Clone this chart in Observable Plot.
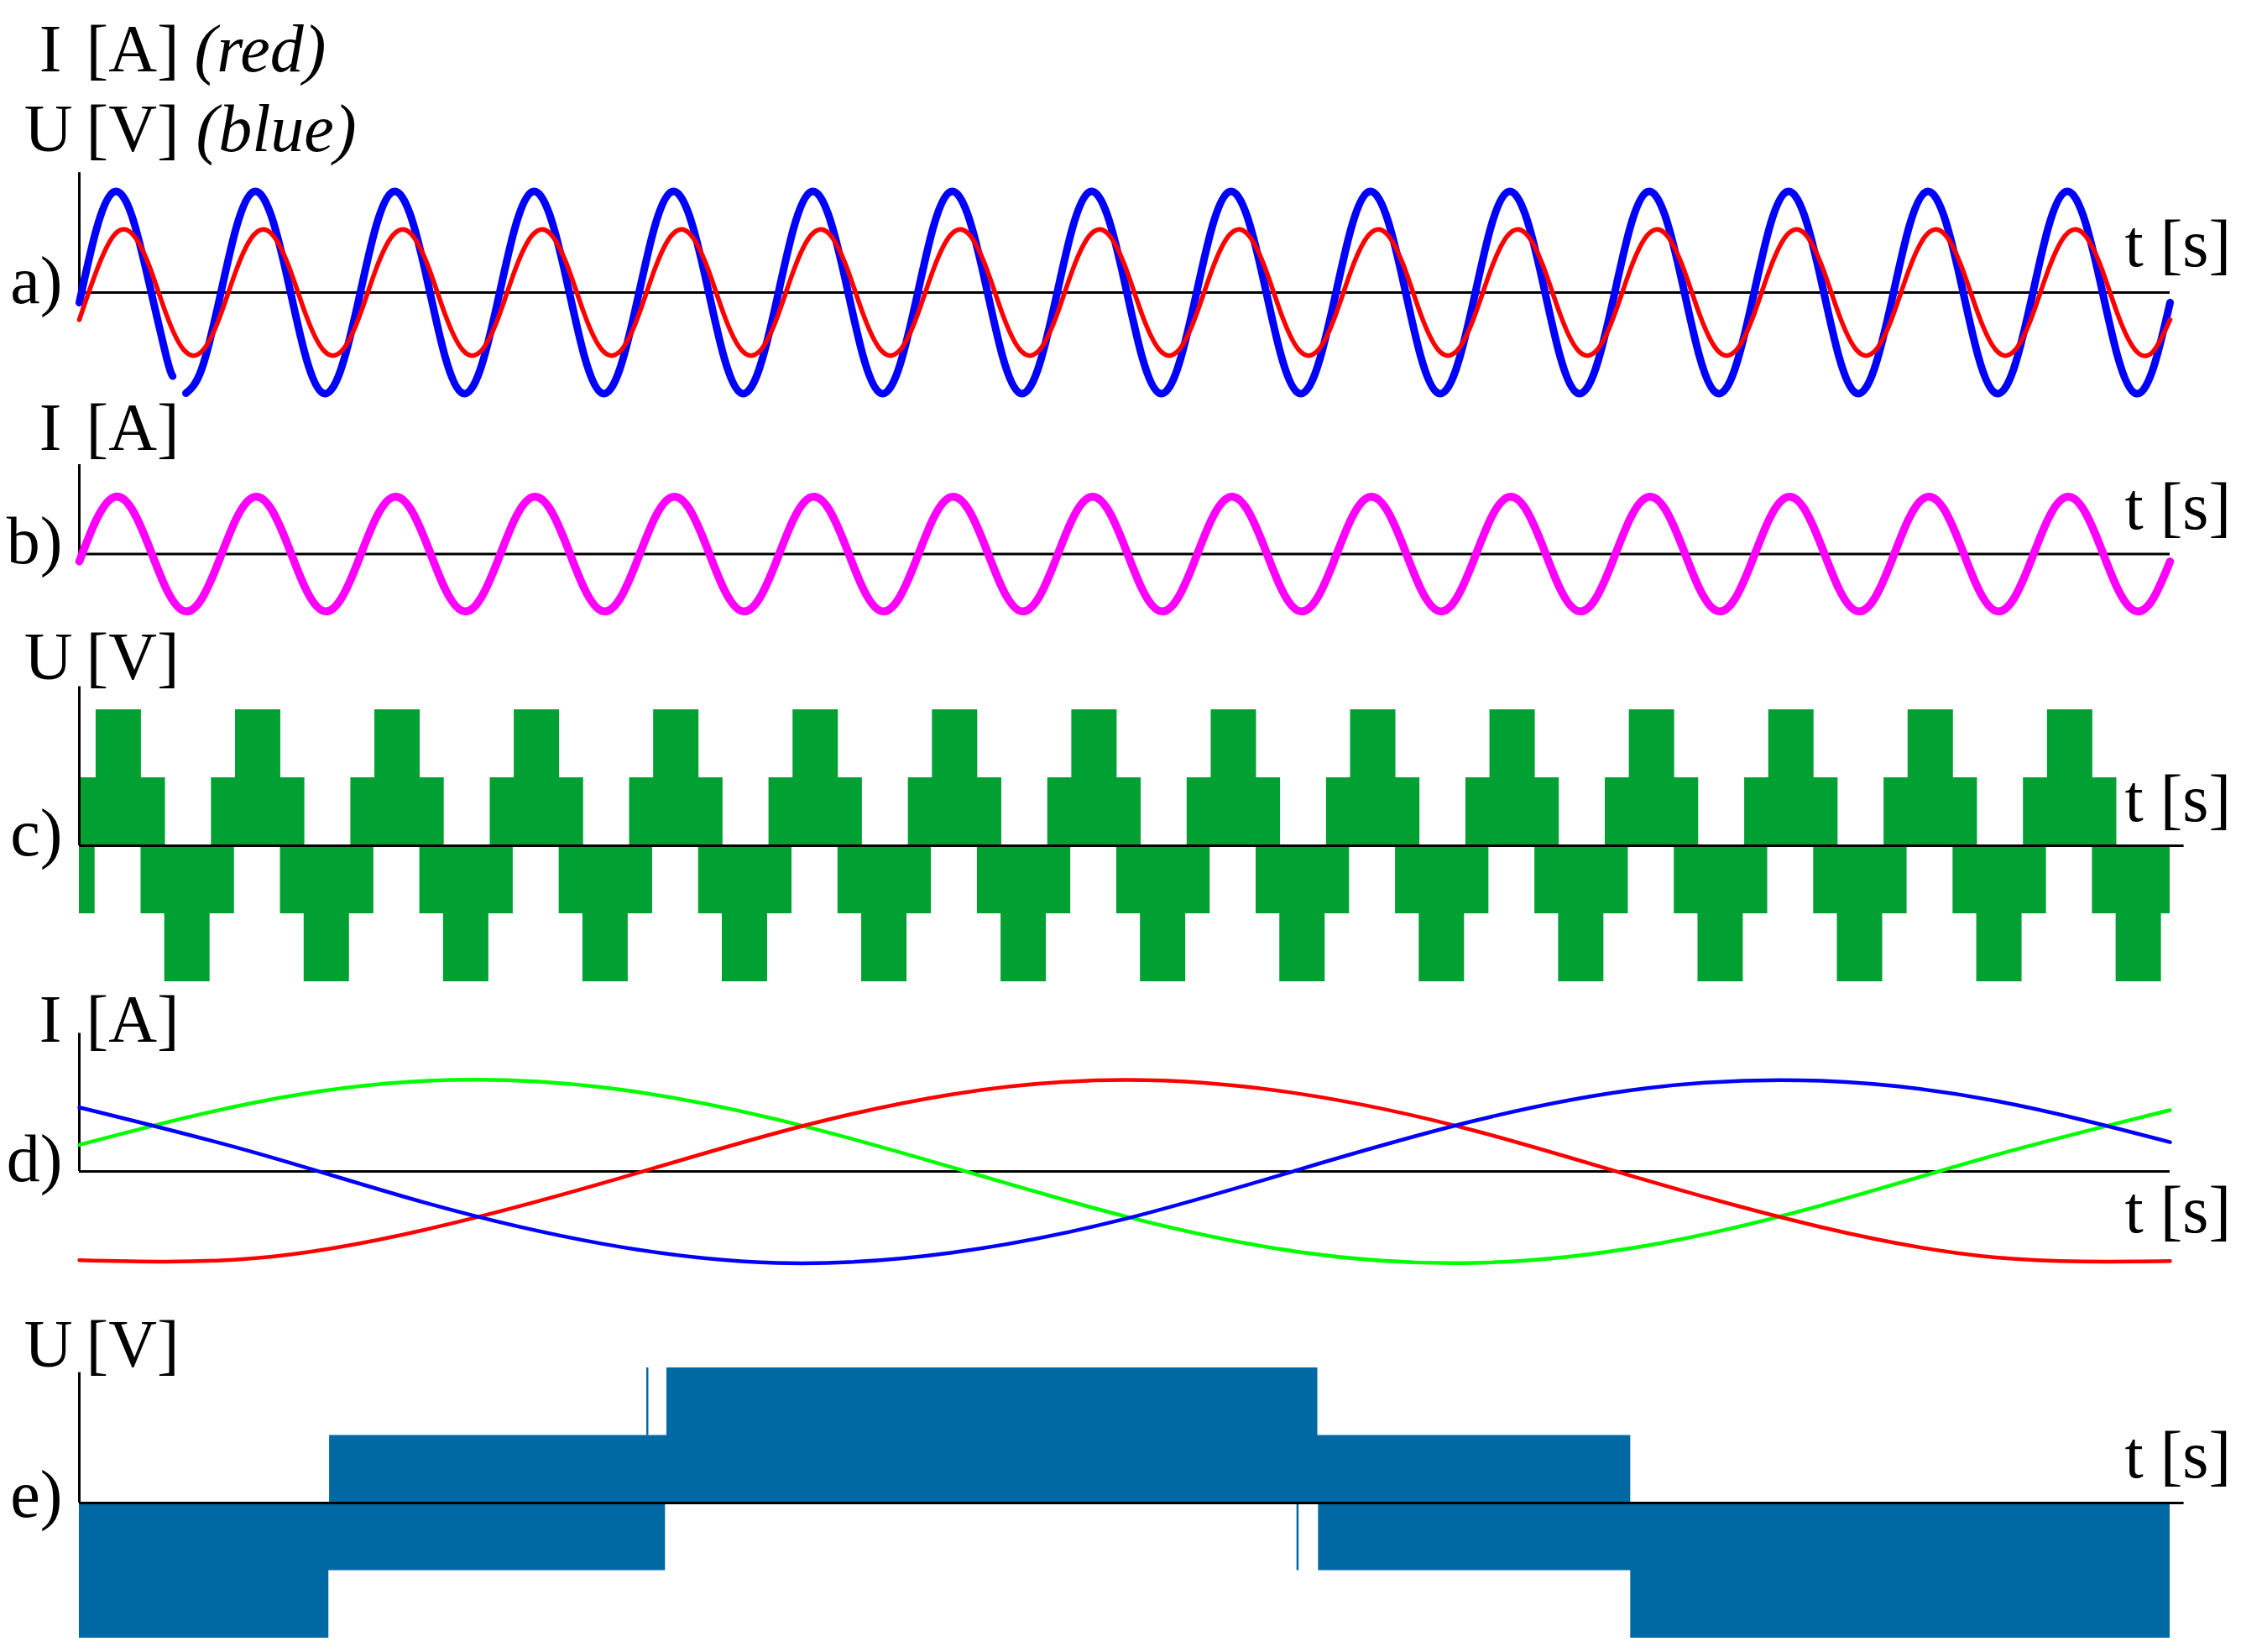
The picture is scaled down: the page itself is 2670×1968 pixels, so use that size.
<!DOCTYPE html>
<html><head><meta charset="utf-8">
<script src="https://cdn.jsdelivr.net/npm/d3@7"></script>
<script src="https://cdn.jsdelivr.net/npm/@observablehq/plot@0.6"></script>
<style>
html,body{margin:0;padding:0;background:#fff;overflow:hidden;}
#chart{position:relative;width:2670px;height:1968px;background:#fff;}
#chart svg{position:absolute;left:0;max-width:none;}
</style></head><body><div id="chart"></div>
<script>
// ---------- time grid of panels a) and b) (ms) ----------
const tA = [
  0,2.5,5,7.5,10,12.5,15,17.5,
  20,22.5,25,27.5,30,32.5,35,37.5,
  40,42.5,45,47.5,50,52.5,55,57.5,
  60,62.5,65,67.5,70,72.5,75,77.5,
  80,82.5,85,87.5,90,92.5,95,97.5,
  100,102.5,105,107.5,110,112.5,115,117.5,
  120,122.5,125,127.5,130,132.5,135,137.5,
  140,142.5,145,147.5,150,152.5,155,157.5,
  160,162.5,165,167.5,170,172.5,175,177.5,
  180,182.5,185,187.5,190,192.5,195,197.5,
  200,202.5,205,207.5,210,212.5,215,217.5,
  220,222.5,225,227.5,230,232.5,235,237.5,
  240,242.5,245,247.5,250,252.5,255,257.5,
  260,262.5,265,267.5,270,272.5,275,277.5,
  280,282.5,285,287.5,290,292.5,295,297.5,
  300];

// a) voltage (blue) – has a short recording gap near 14 ms
const blueT = [
  0,2.5,5,7.5,10,12.5,13.4,14.3,15.3,17.5,
  20,22.5,25,27.5,30,32.5,35,37.5,
  40,42.5,45,47.5,50,52.5,55,57.5,
  60,62.5,65,67.5,70,72.5,75,77.5,
  80,82.5,85,87.5,90,92.5,95,97.5,
  100,102.5,105,107.5,110,112.5,115,117.5,
  120,122.5,125,127.5,130,132.5,135,137.5,
  140,142.5,145,147.5,150,152.5,155,157.5,
  160,162.5,165,167.5,170,172.5,175,177.5,
  180,182.5,185,187.5,190,192.5,195,197.5,
  200,202.5,205,207.5,210,212.5,215,217.5,
  220,222.5,225,227.5,230,232.5,235,237.5,
  240,242.5,245,247.5,250,252.5,255,257.5,
  260,262.5,265,267.5,270,272.5,275,277.5,
  280,282.5,285,287.5,290,292.5,295,297.5,
  300];
const blueU = [
  -0.10,0.64,1.00,0.77,0.10,-0.64,-0.83,null,-1.00,-0.77,
  -0.10,0.64,1.00,0.77,0.10,-0.64,-1.00,-0.77,
  -0.10,0.64,1.00,0.77,0.10,-0.64,-1.00,-0.77,
  -0.10,0.64,1.00,0.77,0.10,-0.64,-1.00,-0.77,
  -0.10,0.64,1.00,0.77,0.10,-0.64,-1.00,-0.77,
  -0.10,0.64,1.00,0.77,0.10,-0.64,-1.00,-0.77,
  -0.10,0.64,1.00,0.77,0.10,-0.64,-1.00,-0.77,
  -0.10,0.64,1.00,0.77,0.10,-0.64,-1.00,-0.77,
  -0.10,0.64,1.00,0.77,0.10,-0.64,-1.00,-0.77,
  -0.10,0.64,1.00,0.77,0.10,-0.64,-1.00,-0.77,
  -0.10,0.64,1.00,0.77,0.10,-0.64,-1.00,-0.77,
  -0.10,0.64,1.00,0.77,0.10,-0.64,-1.00,-0.77,
  -0.10,0.64,1.00,0.77,0.10,-0.64,-1.00,-0.77,
  -0.10,0.64,1.00,0.77,0.10,-0.64,-1.00,-0.77,
  -0.10,0.64,1.00,0.77,0.10,-0.64,-1.00,-0.77,
  -0.10];

// a) current (red)
const redI = [
  -0.27,0.22,0.57,0.59,0.27,-0.22,-0.57,-0.59,
  -0.27,0.22,0.57,0.59,0.27,-0.22,-0.57,-0.59,
  -0.27,0.22,0.57,0.59,0.27,-0.22,-0.57,-0.59,
  -0.27,0.22,0.57,0.59,0.27,-0.22,-0.57,-0.59,
  -0.27,0.22,0.57,0.59,0.27,-0.22,-0.57,-0.59,
  -0.27,0.22,0.57,0.59,0.27,-0.22,-0.57,-0.59,
  -0.27,0.22,0.57,0.59,0.27,-0.22,-0.57,-0.59,
  -0.27,0.22,0.57,0.59,0.27,-0.22,-0.57,-0.59,
  -0.27,0.22,0.57,0.59,0.27,-0.22,-0.57,-0.59,
  -0.27,0.22,0.57,0.59,0.27,-0.22,-0.57,-0.59,
  -0.27,0.22,0.57,0.59,0.27,-0.22,-0.57,-0.59,
  -0.27,0.22,0.57,0.59,0.27,-0.22,-0.57,-0.59,
  -0.27,0.22,0.57,0.59,0.27,-0.22,-0.57,-0.59,
  -0.27,0.22,0.57,0.59,0.27,-0.22,-0.57,-0.59,
  -0.27,0.22,0.57,0.59,0.27,-0.22,-0.57,-0.59,
  -0.27];

// b) current (magenta)
const magentaI = [
  -0.13,0.61,0.99,0.79,0.13,-0.61,-0.99,-0.79,
  -0.13,0.61,0.99,0.79,0.13,-0.61,-0.99,-0.79,
  -0.13,0.61,0.99,0.79,0.13,-0.61,-0.99,-0.79,
  -0.13,0.61,0.99,0.79,0.13,-0.61,-0.99,-0.79,
  -0.13,0.61,0.99,0.79,0.13,-0.61,-0.99,-0.79,
  -0.13,0.61,0.99,0.79,0.13,-0.61,-0.99,-0.79,
  -0.13,0.61,0.99,0.79,0.13,-0.61,-0.99,-0.79,
  -0.13,0.61,0.99,0.79,0.13,-0.61,-0.99,-0.79,
  -0.13,0.61,0.99,0.79,0.13,-0.61,-0.99,-0.79,
  -0.13,0.61,0.99,0.79,0.13,-0.61,-0.99,-0.79,
  -0.13,0.61,0.99,0.79,0.13,-0.61,-0.99,-0.79,
  -0.13,0.61,0.99,0.79,0.13,-0.61,-0.99,-0.79,
  -0.13,0.61,0.99,0.79,0.13,-0.61,-0.99,-0.79,
  -0.13,0.61,0.99,0.79,0.13,-0.61,-0.99,-0.79,
  -0.13,0.61,0.99,0.79,0.13,-0.61,-0.99,-0.79,
  -0.13];

// c) multilevel voltage envelope: switching instants (ms) and levels
const greenPosT = [
  0,2.4,8.9,12.35,
  18.95,22.4,28.9,32.35, 38.95,42.4,48.9,52.35, 58.95,62.4,68.9,72.35,
  78.95,82.4,88.9,92.35, 98.95,102.4,108.9,112.35, 118.95,122.4,128.9,132.35,
  138.95,142.4,148.9,152.35, 158.95,162.4,168.9,172.35, 178.95,182.4,188.9,192.35,
  198.95,202.4,208.9,212.35, 218.95,222.4,228.9,232.35, 238.95,242.4,248.9,252.35,
  258.95,262.4,268.9,272.35, 278.95,282.4,288.9,292.35, 300];
const greenPosLevel = [
  1,2,1,0,
  1,2,1,0, 1,2,1,0, 1,2,1,0,
  1,2,1,0, 1,2,1,0, 1,2,1,0,
  1,2,1,0, 1,2,1,0, 1,2,1,0,
  1,2,1,0, 1,2,1,0, 1,2,1,0,
  1,2,1,0, 1,2,1,0, 0];
const greenNegT = [
  0,2.25,
  8.85,12.25,18.75,22.25, 28.85,32.25,38.75,42.25, 48.85,52.25,58.75,62.25,
  68.85,72.25,78.75,82.25, 88.85,92.25,98.75,102.25, 108.85,112.25,118.75,122.25,
  128.85,132.25,138.75,142.25, 148.85,152.25,158.75,162.25, 168.85,172.25,178.75,182.25,
  188.85,192.25,198.75,202.25, 208.85,212.25,218.75,222.25, 228.85,232.25,238.75,242.25,
  248.85,252.25,258.75,262.25, 268.85,272.25,278.75,282.25, 288.85,292.25,298.75, 300];
const greenNegLevel = [
  -1,0,
  -1,-2,-1,0, -1,-2,-1,0, -1,-2,-1,0,
  -1,-2,-1,0, -1,-2,-1,0, -1,-2,-1,0,
  -1,-2,-1,0, -1,-2,-1,0, -1,-2,-1,0,
  -1,-2,-1,0, -1,-2,-1,0, -1,-2,-1,0,
  -1,-2,-1,0, -1,-2,-1,0, -1,-2,-1, -1];

// d) three-phase currents
const tD = [0,25,50,75,100,125,150,175,200,225,250,275,300];
const dRed   = [-0.97,-0.95,-0.63,-0.13,0.42,0.84,1.00,0.85,0.45,-0.10,-0.61,-0.94,-0.98];
const dBlue  = [0.70,0.21,-0.35,-0.79,-1.00,-0.89,-0.52,0.02,0.55,0.91,0.99,0.77,0.32];
const dGreen = [0.29,0.75,0.99,0.92,0.57,0.05,-0.49,-0.88,-1.00,-0.81,-0.37,0.18,0.67];

// e) staircase voltage envelope
const ePosT = [0,35.9,84.3,177.7,222.6,300];
const ePosLevel = [0,1,2,1,0,0];
const eNegT = [0,35.8,84.1,177.8,222.6,300];
const eNegLevel = [-2,-1,0,-1,-2,-2];
const eSpikeT = [81.5,174.8];
const eSpikeFrom = [1,0];
const eSpikeTo = [2,-1];

// labels
const panelLetters = ["a)","b)","c)","d)","e)"];
const timeLabel = "t [s]";

// ---------- helpers ----------
const FONT = "Liberation Serif";
const pts = (T, V) => T.map((t, i) => ({t, v: V[i] == null ? NaN : V[i]}));
const label = (text, x, y, anchor = "start", italic = false) =>
  Plot.text([text], {frameAnchor: "top-left", dx: x, dy: y, text: d => d,
    textAnchor: anchor, lineAnchor: "bottom", fontSize: 80, fontFamily: FONT,
    fontStyle: italic ? "italic" : "normal", fill: "black"});

function panel(top, height, yDomain, yRange, marks) {
  const svg = Plot.plot({
    width: 2670, height,
    marginTop: 0, marginRight: 0, marginBottom: 0, marginLeft: 0,
    x: {domain: [0, 300], range: [94, 2585], axis: null},
    y: {domain: yDomain, range: yRange, axis: null},
    style: {background: "transparent", overflow: "visible"},
    marks
  });
  svg.style.top = top + "px";
  document.getElementById("chart").append(svg);
}
const zeroLine = (end) => Plot.ruleY([0], {x1: 0, x2: end, stroke: "black", strokeWidth: 3});
const vAxis = (top) => Plot.ruleX([0], {y1: 0, y2: top, stroke: "black", strokeWidth: 3});

// a)
panel(0, 480, [-1, 1], [468, 228], [
  zeroLine(300), vAxis(1.19),
  Plot.line(pts(blueT, blueU), {x: "t", y: "v", stroke: "#0000ff", strokeWidth: 9, curve: "natural"}),
  Plot.line(pts(tA, redI), {x: "t", y: "v", stroke: "#ff0000", strokeWidth: 5.5, curve: "natural"}),
  label("I", 73, 84, "end"), label("[A]", 102, 84), label("(red)", 231, 84, "start", true),
  label("U", 86, 179, "end"), label("[V]", 102, 179), label("(blue)", 233, 179, "start", true),
  label(panelLetters[0], 74, 360, "end"), label(timeLabel, 2531, 316)
]);

// b)
panel(480, 265, [-1, 1], [248, 111], [
  zeroLine(300), vAxis(1.555),
  Plot.line(pts(tA, magentaI), {x: "t", y: "v", stroke: "#ff00ff", strokeWidth: 9.5, curve: "natural"}),
  label("I", 73, 55, "end"), label("[A]", 102, 55),
  label(panelLetters[1], 74, 190, "end"), label(timeLabel, 2531, 149)
]);

// c)
panel(745, 435, [-2, 2], [424, 100], [
  Plot.areaY(pts(greenPosT, greenPosLevel), {x: "t", y1: 0, y2: "v", curve: "step-after", fill: "#00a032"}),
  Plot.areaY(pts(greenNegT, greenNegLevel), {x: "t", y1: 0, y2: "v", curve: "step-after", fill: "#00a032"}),
  zeroLine(302), vAxis(2.34),
  label("U", 86, 63, "end"), label("[V]", 102, 63),
  label(panelLetters[2], 74, 273, "end"), label(timeLabel, 2531, 232)
]);

// d)
panel(1180, 365, [-1, 1], [324, 106], [
  zeroLine(300), vAxis(1.51),
  Plot.line(pts(tD, dGreen), {x: "t", y: "v", stroke: "#00ff00", strokeWidth: 4.5, curve: "natural"}),
  Plot.line(pts(tD, dRed), {x: "t", y: "v", stroke: "#ff0000", strokeWidth: 4.5, curve: "natural"}),
  Plot.line(pts(tD, dBlue), {x: "t", y: "v", stroke: "#0000ff", strokeWidth: 4.5, curve: "natural"}),
  label("I", 73, 60, "end"), label("[A]", 102, 60),
  label(panelLetters[3], 74, 226, "end"), label(timeLabel, 2531, 287)
]);

// e)
const spikes = eSpikeT.map((t, i) => ({t, a: eSpikeFrom[i], b: eSpikeTo[i]}));
panel(1545, 423, [-2, 2], [406, 84], [
  Plot.areaY(pts(ePosT, ePosLevel), {x: "t", y1: 0, y2: "v", curve: "step-after", fill: "#0069a3"}),
  Plot.areaY(pts(eNegT, eNegLevel), {x: "t", y1: 0, y2: "v", curve: "step-after", fill: "#0069a3"}),
  Plot.ruleX(spikes, {x: "t", y1: "a", y2: "b", stroke: "#0069a3", strokeWidth: 2.5}),
  zeroLine(302), vAxis(1.93),
  label("U", 86, 82, "end"), label("[V]", 102, 82),
  label(panelLetters[4], 74, 261, "end"), label(timeLabel, 2531, 214)
]);
</script></body></html>
